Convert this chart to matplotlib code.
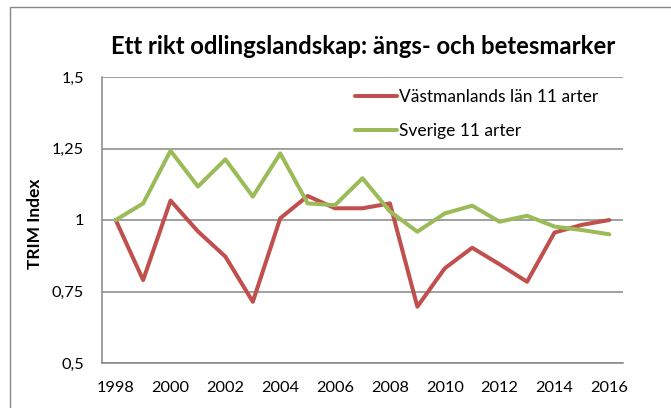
import matplotlib
matplotlib.use("Agg")
import matplotlib.pyplot as plt
from matplotlib.patches import Rectangle
from matplotlib.ticker import FuncFormatter

years = list(range(1998, 2017))
vastmanland = [1.00, 0.79, 1.068, 0.96, 0.872, 0.714, 1.006, 1.084, 1.041, 1.041,
               1.058, 0.697, 0.831, 0.903, 0.845, 0.784, 0.956, 0.983, 1.00]
sverige = [1.00, 1.058, 1.242, 1.117, 1.212, 1.082, 1.233, 1.058, 1.052, 1.146,
           1.03, 0.959, 1.023, 1.05, 0.994, 1.015, 0.977, 0.965, 0.95]
series_labels = ["Västmanlands län 11 arter", "Sverige 11 arter"]
title = "Ett rikt odlingslandskap: ängs- och betesmarker"
ylabel = "TRIM Index"
yticks = [0.5, 0.75, 1.0, 1.25, 1.5]
xticks = list(range(1998, 2017, 2))

plt.rcParams['font.family'] = ['Lato', 'DejaVu Sans']

W, H = 671, 408
fig = plt.figure(figsize=(W / 100, H / 100), dpi=100)
ax = fig.add_axes([102 / W, 1 - 363 / H, (623 - 102) / W, (363 - 77) / H])

grid_c = "#868686"
ax.plot(years, vastmanland, color="#C0504D", lw=2.9, label=series_labels[0],
        solid_joinstyle="round", solid_capstyle="round")
ax.plot(years, sverige, color="#9BBB59", lw=2.9, label=series_labels[1],
        solid_joinstyle="round", solid_capstyle="round")

ax.set_xlim(1997.5, 2016.5)
ax.set_ylim(0.5, 1.5)
ax.set_yticks(yticks)
ax.set_xticks(xticks)
ax.yaxis.set_major_formatter(FuncFormatter(lambda v, p: ("%g" % v).replace(".", ",")))
ax.tick_params(axis="both", length=0, labelsize=11.8, colors="black")
ax.tick_params(axis="y", pad=13)
ax.tick_params(axis="x", pad=13)
ax.grid(axis="y", color=grid_c, lw=1.1)
ax.set_axisbelow(True)
for s in ["top", "right"]:
    ax.spines[s].set_visible(False)
for s in ["left", "bottom"]:
    ax.spines[s].set_color(grid_c)
    ax.spines[s].set_linewidth(1.1)

fig.text(35 / W, 1 - 224 / H, ylabel, rotation=90, fontsize=12.5, fontweight="bold",
         ha="center", va="center")
fig.text(363 / W, 1 - 47 / H, title, fontsize=17.2, fontweight="bold",
         ha="center", va="center")

leg = ax.legend(loc="upper left", bbox_to_anchor=((355 - 102) / 521, (363 - 89) / 286),
                frameon=False, fontsize=12.5, handlelength=2.4, handletextpad=0.15,
                labelspacing=1.05, borderpad=0, borderaxespad=0)

fig.patches.append(Rectangle((10 / W, -0.1), 1.2, 1 - 7 / H + 0.1, transform=fig.transFigure,
                             fill=False, edgecolor="#878787", lw=1.0))

fig.savefig("out.png", dpi=100)
